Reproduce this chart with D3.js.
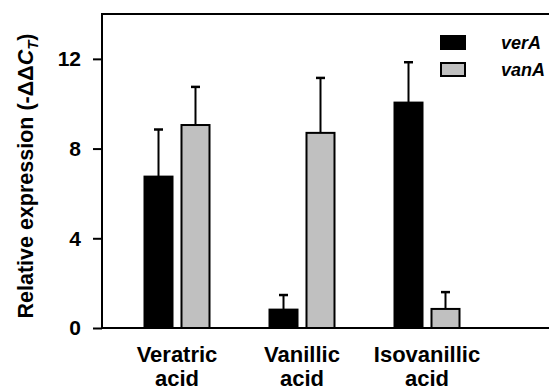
<!DOCTYPE html>
<html>
<head>
<meta charset="utf-8">
<script src="https://cdn.jsdelivr.net/npm/d3@7"></script>
<style>
  body { margin: 0; background: #fff; }
  text { font-family: "Liberation Sans", Arial, sans-serif; font-weight: bold; fill: #000; }
</style>
</head>
<body>
<svg id="chart" width="549" height="388"></svg>
<script>
// data
var categories = ['Veratric acid', 'Vanillic acid', 'Isovanillic acid'];
var series = ['verA', 'vanA'];
var verA = [6.75, 0.82, 10.05];
var verAErr = [2.1, 0.65, 1.8];
var vanA = [9.05, 8.7, 0.85];
var vanAErr = [1.7, 2.45, 0.75];
var yTicks = [0, 4, 8, 12];
var colors = { verA: '#000000', vanA: '#c0c0c0' };

var svg = d3.select('#chart');
var mLeft = 102, mTop = 14, mBottom = 328, mRight = 560;

var y = d3.scaleLinear().domain([0, 14]).range([mBottom, mTop]);

// groups + bars within group
var x0 = d3.scaleBand()
  .domain(categories)
  .range([144.5, 459.5])
  .paddingInner(0.48);
var x1 = d3.scaleBand()
  .domain(series)
  .range([0, x0.bandwidth()])
  .paddingInner(0.243);

var rows = categories.map(function(c, i) {
  return [
    { cat: c, key: 'verA', v: verA[i], e: verAErr[i] },
    { cat: c, key: 'vanA', v: vanA[i], e: vanAErr[i] }
  ];
});

var g = svg.append('g');

//error bars (upper only) then bars
g.selectAll('.grp').data(rows).enter().append('g')
  .attr('class', 'grp')
  .attr('transform', function(d) { return 'translate(' + x0(d[0].cat) + ',0)'; })
  .each(function(d) {
    var grp = d3.select(this);
    var eb = grp.selectAll('.err').data(d).enter().append('g').attr('class', 'err');
    eb.append('line')
      .attr('x1', function(b) { return x1(b.key) + x1.bandwidth() / 2; })
      .attr('x2', function(b) { return x1(b.key) + x1.bandwidth() / 2; })
      .attr('y1', function(b) { return y(b.v); })
      .attr('y2', function(b) { return y(b.v + b.e); })
      .attr('stroke', '#000').attr('stroke-width', 2);
    eb.append('line')
      .attr('x1', function(b) { return x1(b.key) + x1.bandwidth() / 2 - 4.5; })
      .attr('x2', function(b) { return x1(b.key) + x1.bandwidth() / 2 + 4.5; })
      .attr('y1', function(b) { return y(b.v + b.e); })
      .attr('y2', function(b) { return y(b.v + b.e); })
      .attr('stroke', '#000').attr('stroke-width', 2.5);
    grp.selectAll('rect').data(d).enter().append('rect')
      .attr('x', function(b) { return x1(b.key); })
      .attr('y', function(b) { return y(b.v); })
      .attr('width', x1.bandwidth())
      .attr('height', function(b) { return y(0) - y(b.v); })
      .attr('fill', function(b) { return colors[b.key]; })
      .attr('stroke', '#000')
      .attr('stroke-width', 2);
  });

//frame
svg.append('path')
  .attr('d', 'M' + mRight + ',' + mTop + 'H' + mLeft + 'V' + mBottom + 'H' + mRight)
  .attr('fill', 'none').attr('stroke', '#000').attr('stroke-width', 2);

//y axis
var yAxis = d3.axisLeft(y).tickValues(yTicks).tickSize(9).tickPadding(12);
var ya = svg.append('g').attr('transform', 'translate(' + mLeft + ',0)').call(yAxis);
ya.select('.domain').remove();
ya.selectAll('.tick line').attr('stroke', '#000').attr('stroke-width', 2);
ya.selectAll('.tick text')
  .attr('font-size', 21)
  .style('font-family', '"Liberation Sans", Arial, sans-serif')
  .style('font-weight', 'bold');

//category labels
var cl = svg.append('g').selectAll('text').data(categories).enter().append('text')
  .attr('x', function(d) { return x0(d) + x0.bandwidth() / 2; })
  .attr('y', 362)
  .attr('text-anchor', 'middle')
  .attr('font-size', 22);
cl.each(function(d) {
  var parts = d.split(' ');
  var t = d3.select(this);
  t.append('tspan').attr('x', t.attr('x')).text(parts[0]);
  t.append('tspan').attr('x', t.attr('x')).attr('dy', 24).text(parts[1]);
});

//y title
var yt = svg.append('text')
  .attr('transform', 'translate(33,176) rotate(-90)')
  .attr('text-anchor', 'middle')
  .attr('font-size', 21.5);
yt.append('tspan').text('Relative expression (-ΔΔ');
yt.append('tspan').style('font-style', 'italic').text('C');
yt.append('tspan').style('font-style', 'italic').attr('font-size', 15).attr('dy', 5).text('T');
yt.append('tspan').attr('dy', -5).text(')');

//legend
var lg = svg.append('g').selectAll('g').data(series).enter().append('g')
  .attr('transform', function(d, i) { return 'translate(441,' + (36 + i * 27) + ')'; });
lg.append('rect')
  .attr('width', 24).attr('height', 13)
  .attr('fill', function(d) { return colors[d]; })
  .attr('stroke', '#000').attr('stroke-width', 2);
lg.append('text')
  .attr('x', 60).attr('y', 13)
  .attr('font-size', 18)
  .style('font-style', 'italic')
  .text(function(d) { return d; });
</script>
</body>
</html>
